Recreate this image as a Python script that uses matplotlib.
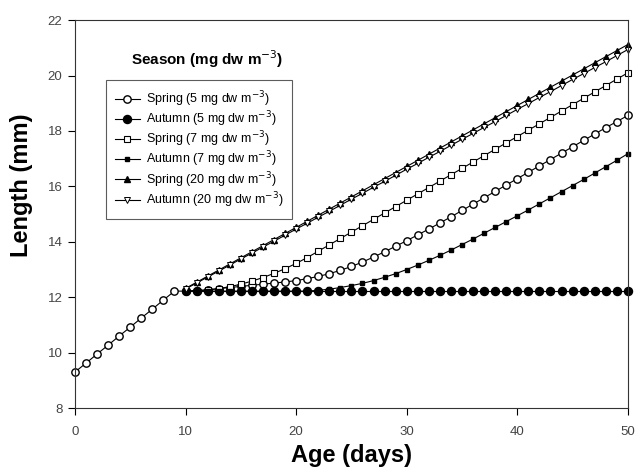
import matplotlib
matplotlib.use("Agg")
import matplotlib.pyplot as plt

plt.rcParams['font.family'] = ['Liberation Sans', 'DejaVu Sans']

# age in days
early_days = [0, 1, 2, 3, 4, 5, 6, 7, 8, 9]
late_days = [10, 11, 12, 13, 14, 15, 16, 17, 18, 19, 20, 21, 22, 23, 24, 25, 26, 27, 28, 29, 30,
             31, 32, 33, 34, 35, 36, 37, 38, 39, 40, 41, 42, 43, 44, 45, 46, 47, 48, 49, 50]

# shared growth before day 10 (mm)
early_len = [9.30, 9.62, 9.95, 10.27, 10.60, 10.92, 11.25, 11.57, 11.90, 12.22]

spring5 = [12.22, 12.24, 12.27, 12.31, 12.35, 12.39, 12.43, 12.47, 12.51, 12.55, 12.60,
           12.67, 12.75, 12.85, 12.97, 13.11, 13.27, 13.45, 13.64, 13.84, 14.04,
           14.25, 14.46, 14.68, 14.90, 15.13, 15.36, 15.59, 15.82, 16.05, 16.28,
           16.51, 16.74, 16.97, 17.20, 17.43, 17.66, 17.89, 18.12, 18.34, 18.56]
autumn5 = [12.22, 12.22, 12.22, 12.22, 12.22, 12.22, 12.22, 12.22, 12.22, 12.22, 12.22,
           12.22, 12.22, 12.22, 12.22, 12.22, 12.22, 12.22, 12.22, 12.22, 12.22,
           12.22, 12.22, 12.22, 12.22, 12.22, 12.22, 12.22, 12.22, 12.22, 12.22,
           12.22, 12.22, 12.22, 12.22, 12.22, 12.22, 12.22, 12.22, 12.22, 12.22]
spring7 = [12.22, 12.23, 12.26, 12.31, 12.38, 12.47, 12.58, 12.71, 12.86, 13.03, 13.22,
           13.43, 13.66, 13.89, 14.12, 14.35, 14.58, 14.81, 15.04, 15.27, 15.50,
           15.73, 15.96, 16.19, 16.42, 16.65, 16.88, 17.11, 17.34, 17.57, 17.80,
           18.03, 18.26, 18.49, 18.72, 18.95, 19.18, 19.41, 19.64, 19.87, 20.10]
autumn7 = [12.22, 12.22, 12.22, 12.22, 12.22, 12.22, 12.22, 12.22, 12.22, 12.22, 12.22,
           12.22, 12.25, 12.29, 12.35, 12.42, 12.50, 12.60, 12.72, 12.85, 13.00,
           13.16, 13.33, 13.51, 13.70, 13.90, 14.10, 14.31, 14.52, 14.73, 14.94,
           15.15, 15.37, 15.59, 15.81, 16.03, 16.25, 16.48, 16.71, 16.94, 17.18]
spring20 = [12.32, 12.54, 12.76, 12.98, 13.20, 13.42, 13.64, 13.86, 14.08, 14.30, 14.52,
            14.74, 14.96, 15.18, 15.40, 15.62, 15.84, 16.06, 16.28, 16.50, 16.72,
            16.94, 17.16, 17.38, 17.60, 17.82, 18.04, 18.26, 18.48, 18.70, 18.92,
            19.14, 19.36, 19.58, 19.80, 20.02, 20.24, 20.46, 20.68, 20.90, 21.12]
autumn20 = [12.30, 12.51, 12.73, 12.94, 13.16, 13.38, 13.59, 13.81, 14.02, 14.24, 14.46,
            14.67, 14.89, 15.10, 15.32, 15.54, 15.75, 15.97, 16.18, 16.40, 16.62,
            16.83, 17.05, 17.26, 17.48, 17.70, 17.91, 18.13, 18.34, 18.56, 18.78,
            18.99, 19.21, 19.42, 19.64, 19.86, 20.07, 20.29, 20.50, 20.72, 20.94]

labels = ["Spring (5 mg dw m$^{-3}$)", "Autumn (5 mg dw m$^{-3}$)",
          "Spring (7 mg dw m$^{-3}$)", "Autumn (7 mg dw m$^{-3}$)",
          "Spring (20 mg dw m$^{-3}$)", "Autumn (20 mg dw m$^{-3}$)"]

fig = plt.figure(figsize=(6.37, 4.69), dpi=100)
ax = fig.add_axes([0.1177, 0.130, 0.868, 0.827])

lw = 0.8
ax.plot(early_days + late_days, early_len + spring5, '-o', color='black', lw=lw,
        ms=5.3, mfc='white', mec='black', mew=1.0, label=labels[0], clip_on=False)
ax.plot(late_days, autumn5, '-o', color='black', lw=lw,
        ms=5.8, mfc='black', mec='black', label=labels[1], clip_on=False)
ax.plot(late_days, spring7, '-s', color='black', lw=lw,
        ms=4.3, mfc='white', mec='black', mew=0.8, label=labels[2], clip_on=False)
ax.plot(late_days, autumn7, '-s', color='black', lw=lw,
        ms=3.0, mfc='black', mec='black', label=labels[3], clip_on=False)
ax.plot(late_days, spring20, '-^', color='black', lw=lw,
        ms=4.3, mfc='black', mec='black', label=labels[4], clip_on=False)
ax.plot(late_days, autumn20, '-v', color='black', lw=lw,
        ms=4.3, mfc='white', mec='black', mew=0.7, label=labels[5], clip_on=False)

ax.set_xlim(0, 50)
ax.set_ylim(8, 22)
ax.set_xticks([0, 10, 20, 30, 40, 50])
ax.set_yticks([8, 10, 12, 14, 16, 18, 20, 22])
ax.tick_params(direction='out', length=5, width=0.8, labelsize=9.5, labelcolor='#444444')
ax.tick_params(axis='x', pad=8)
ax.tick_params(axis='y', pad=4)
for s in ax.spines.values():
    s.set_linewidth(0.8)
    s.set_color('#333333')

ax.set_xlabel("Age (days)", fontsize=17, fontweight='bold', labelpad=4)
ax.set_ylabel("Length (mm)", fontsize=17, fontweight='bold')
ax.yaxis.set_label_coords(-0.076, 0.575)

ax.text(0.24, 0.90, "Season (mg dw m$^{-3}$)", transform=ax.transAxes,
        ha='center', va='center', fontsize=11, fontweight='bold')
leg = ax.legend(loc='upper left', bbox_to_anchor=(0.056, 0.845), borderaxespad=0,
                fontsize=9, handlelength=2.0, labelspacing=0.05, fancybox=False,
                frameon=True, edgecolor='#333333', borderpad=0.7, handletextpad=0.5)
leg.get_frame().set_linewidth(0.8)

fig.savefig("out.png", dpi=100)
